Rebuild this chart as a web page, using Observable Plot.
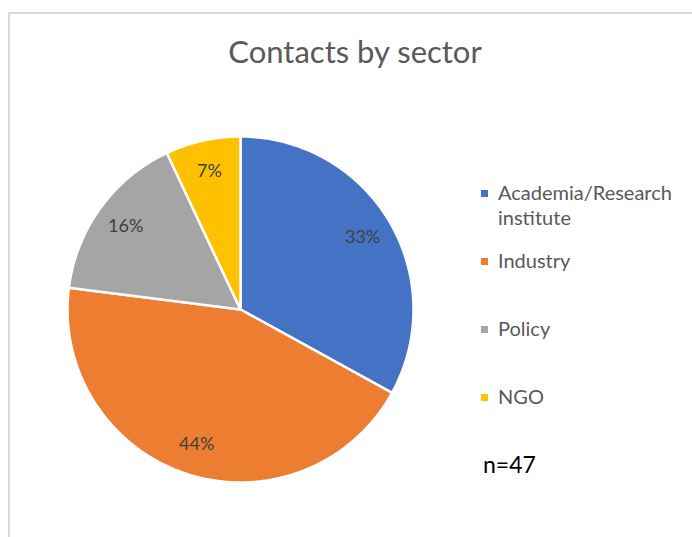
<!DOCTYPE html>
<html>
<head>
<meta charset="utf-8">
<script src="https://cdn.jsdelivr.net/npm/d3@7"></script>
<script src="https://cdn.jsdelivr.net/npm/@observablehq/plot@0.6"></script>
<style>
  html, body { margin: 0; padding: 0; background: #fff; }
  #wrap { position: relative; width: 692px; height: 537px; overflow: hidden; font-family: Lato, "Open Sans", sans-serif; }
  #frame { position: absolute; left: 8px; top: 12px; right: -5px; bottom: -5px; border-left: 2px solid #d9d9d9; border-top: 2px solid #d9d9d9; }
  #title { position: absolute; left: 0; width: 710px; top: 32px; text-align: center; font-size: 31px; color: #595959; }
  #pie { position: absolute; left: 60px; top: 129px; }
  #legend { position: absolute; left: 481px; top: 180px; display: grid; grid-auto-rows: 68px; }
  .item { display: flex; align-items: flex-start; font-size: 20px; line-height: 25px; color: #595959; }
  .sw { width: 7px; height: 7px; margin-top: 10px; margin-right: 10px; flex: none; }
  .lab { width: 190px; }
  #n { position: absolute; left: 483px; top: 450px; font-size: 23px; color: #000; }
</style>
</head>
<body>
<div id="wrap">
  <div id="frame"></div>
  <div id="title"></div>
  <div id="pie"></div>
  <div id="legend"></div>
  <div id="n"></div>
</div>
<script>
const chartTitle = "Contacts by sector";
const sectors = ["Academia/Research institute", "Industry", "Policy", "NGO"];
const shares = [33, 44, 16, 7];
const colors = ["#4472C4", "#ED7D31", "#A5A5A5", "#FFC000"];
const sampleSize = 47;

document.getElementById("title").textContent = chartTitle;
document.getElementById("n").textContent = "n=" + sampleSize;

const table = sectors.map((s, i) => ({sector: s, share: shares[i]}));
const arcs = d3.pie().sort(null).value(d => d.share)(table);

// polygon vertices for each slice, computed from the data angles
const pts = [];
const steps = 360;
for (const a of arcs) {
  pts.push({sector: a.data.sector, x: 0, y: 0});
  const n = Math.max(2, Math.ceil((a.endAngle - a.startAngle) / (2 * Math.PI) * steps));
  for (let k = 0; k <= n; k++) {
    const t = a.startAngle + (a.endAngle - a.startAngle) * k / n;
    pts.push({sector: a.data.sector, x: Math.sin(t), y: Math.cos(t)});
  }
}
const labelR = 0.82;
const labels = arcs.map(a => {
  const m = (a.startAngle + a.endAngle) / 2;
  return {text: a.data.share + "%", x: labelR * Math.sin(m), y: labelR * Math.cos(m)};
});

const lim = 1.0405;
const plot = Plot.plot({
  width: 360, height: 360, margin: 0,
  x: {domain: [-lim, lim], axis: null},
  y: {domain: [-lim, lim], axis: null},
  color: {domain: sectors, range: colors},
  marks: [
    Plot.line(pts, {x: "x", y: "y", z: "sector", fill: "sector", stroke: "white", strokeWidth: 2.5, strokeLinejoin: "round", curve: "linear-closed"}),
    Plot.text(labels, {x: "x", y: "y", text: "text", fill: "#404040", fontSize: 18, fontFamily: "Lato, sans-serif"})
  ]
});
document.getElementById("pie").appendChild(plot);

const leg = document.getElementById("legend");
sectors.forEach((s, i) => {
  const it = document.createElement("div"); it.className = "item";
  const sw = document.createElement("div"); sw.className = "sw"; sw.style.background = colors[i];
  const lb = document.createElement("div"); lb.className = "lab"; lb.textContent = s;
  it.appendChild(sw); it.appendChild(lb); leg.appendChild(it);
});
</script>
</body>
</html>
